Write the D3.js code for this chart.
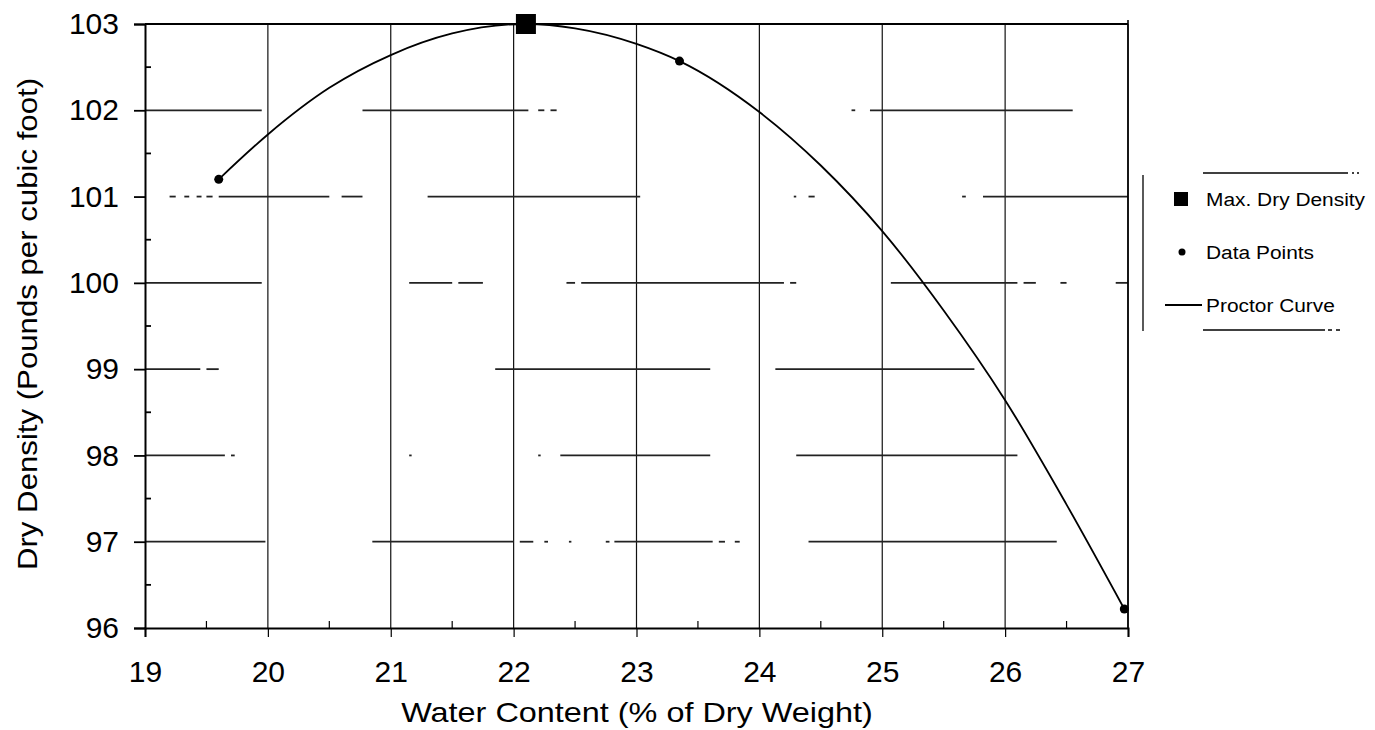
<!DOCTYPE html>
<html>
<head>
<meta charset="utf-8">
<script src="https://cdn.jsdelivr.net/npm/d3@7"></script>
<style>
  html, body { margin: 0; padding: 0; background: #fff; }
  svg { display: block; font-family: "Liberation Sans", Arial, sans-serif; }
</style>
</head>
<body>
<svg id="chart" width="1375" height="730"></svg>
<script>
// Compaction test: measured points
const waterContent = [19.6, 23.35, 26.97];
const dryDensity   = [101.2, 102.57, 96.22];

// Maximum dry density (peak of the curve)
const maxWater   = 22.1;
const maxDensity = 103.0;

// Proctor curve, read at regular water contents
const curveWater   = [19.6, 20, 20.5, 21, 21.5, 22.1, 22.5, 23, 23.35, 24, 24.5, 25, 25.5, 26, 26.5, 26.97];
const curveDensity = [101.2, 101.72, 102.26, 102.64, 102.89, 103.0, 102.95, 102.77, 102.57, 101.98, 101.36, 100.6, 99.68, 98.64, 97.43, 96.22];

// Axis ticks
const xTicks = [19, 20, 21, 22, 23, 24, 25, 26, 27];
const yTicks = [96, 97, 98, 99, 100, 101, 102, 103];

// Printed portions of the horizontal gridlines (water-content ranges)
const gridPieces = {
  102: [[19, 19.95], [20.77, 22.12], [22.2, 22.25], [22.3, 22.35], [24.75, 24.78], [24.9, 26.55]],
  101: [[19.2, 19.25], [19.32, 19.36], [19.42, 19.46], [19.5, 19.55], [19.6, 20.5], [20.6, 20.77], [21.3, 23.03], [24.28, 24.3], [24.4, 24.45], [25.65, 25.68], [25.82, 27]],
  100: [[19, 19.95], [21.15, 21.5], [21.55, 21.75], [22.43, 22.5], [22.55, 24.2], [24.25, 24.3], [25.07, 26.1], [26.15, 26.25], [26.45, 26.5], [26.9, 27]],
  99:  [[19, 19.45], [19.5, 19.6], [21.85, 23.6], [24.13, 25.75]],
  98:  [[19, 19.65], [19.7, 19.73], [21.15, 21.17], [22.2, 22.22], [22.38, 23.6], [24.3, 26.1]],
  97:  [[19, 19.98], [20.85, 22.0], [22.05, 22.16], [22.25, 22.28], [22.45, 22.47], [22.75, 22.78], [22.82, 23.62], [23.67, 23.72], [23.8, 23.84], [24.4, 26.42]]
};

const svg = d3.select("#chart");
const x = d3.scaleLinear().domain([19, 27]).range([145, 1128]);
const y = d3.scaleLinear().domain([96, 103]).range([628, 24]);

// Vertical gridlines
svg.append("g").selectAll("line")
  .data(xTicks.slice(1))
  .join("line")
  .attr("x1", d => x(d)).attr("x2", d => x(d))
  .attr("y1", y(103)).attr("y2", y(96))
  .attr("stroke", "#111").attr("stroke-width", 1.2);

// Horizontal gridline pieces
const hg = svg.append("g");
Object.entries(gridPieces).forEach(([level, pieces]) => {
  hg.selectAll(null)
    .data(pieces)
    .join("line")
    .attr("x1", d => x(d[0])).attr("x2", d => x(d[1]))
    .attr("y1", y(+level)).attr("y2", y(+level))
    .attr("stroke", "#222").attr("stroke-width", 1.8);
});

// Top border
svg.append("line")
  .attr("x1", x(19)).attr("x2", x(27))
  .attr("y1", y(103)).attr("y2", y(103))
  .attr("stroke", "#000").attr("stroke-width", 2);

// Y axis
const yAxis = svg.append("g")
  .attr("transform", `translate(${x(19)},0)`)
  .call(d3.axisLeft(y).tickValues(yTicks).tickSize(11).tickPadding(15).tickFormat(d3.format("d")));
yAxis.select(".domain").attr("stroke", "#000").attr("stroke-width", 2);
yAxis.selectAll(".tick line").attr("stroke", "#000").attr("stroke-width", 1.8);
yAxis.selectAll("text").attr("font-size", 30).attr("fill", "#000")
  .attr("font-family", "'Liberation Sans', Arial, sans-serif");

// X axis
const xAxis = svg.append("g")
  .attr("transform", `translate(0,${y(96)})`)
  .call(d3.axisBottom(x).tickValues(xTicks).tickSize(9).tickPadding(24).tickFormat(d3.format("d")));
xAxis.select(".domain").attr("stroke", "#000").attr("stroke-width", 2);
xAxis.selectAll(".tick line").attr("stroke", "#000").attr("stroke-width", 1.2);
xAxis.selectAll("text").attr("font-size", 30).attr("fill", "#000")
  .attr("font-family", "'Liberation Sans', Arial, sans-serif");

// Minor ticks pointing into the plot
const xMinor = d3.range(19.5, 27, 1);
svg.append("g").selectAll("line").data(xMinor).join("line")
  .attr("x1", d => x(d)).attr("x2", d => x(d))
  .attr("y1", y(96)).attr("y2", y(96) - 7)
  .attr("stroke", "#000").attr("stroke-width", 1.2);
const yMinor = d3.range(96.5, 103, 1);
svg.append("g").selectAll("line").data(yMinor).join("line")
  .attr("x1", x(19)).attr("x2", x(19) + 6)
  .attr("y1", d => y(d)).attr("y2", d => y(d))
  .attr("stroke", "#000").attr("stroke-width", 1.8);

// Right border
svg.append("line")
  .attr("x1", x(27)).attr("x2", x(27))
  .attr("y1", y(103) - 4).attr("y2", y(96))
  .attr("stroke", "#000").attr("stroke-width", 1.6);

// Proctor curve
const curvePts = curveWater.map((w, i) => [w, curveDensity[i]]);
svg.append("path")
  .datum(curvePts)
  .attr("fill", "none")
  .attr("stroke", "#000")
  .attr("stroke-width", 1.8)
  .attr("d", d3.line().x(d => x(d[0])).y(d => y(d[1])).curve(d3.curveMonotoneX));

// Data points
svg.append("g").selectAll("circle")
  .data(waterContent.map((w, i) => [w, dryDensity[i]]))
  .join("circle")
  .attr("cx", d => x(d[0])).attr("cy", d => y(d[1]))
  .attr("r", 4.5).attr("fill", "#000");

// Max dry density marker
svg.append("rect")
  .attr("x", x(maxWater) - 10).attr("y", y(maxDensity) - 10)
  .attr("width", 20).attr("height", 20)
  .attr("fill", "#000");

// Axis titles (wide face, stretched horizontally)
svg.append("text")
  .attr("transform", "translate(637,722) scale(1.2,1)")
  .attr("text-anchor", "middle")
  .attr("font-size", 27)
  .text("Water Content (% of Dry Weight)");
svg.append("text")
  .attr("transform", "translate(37,324) rotate(-90) scale(1.155,1)")
  .attr("text-anchor", "middle")
  .attr("font-size", 27)
  .text("Dry Density (Pounds per cubic foot)");

// Legend
const lg = svg.append("g");
lg.append("line").attr("x1", 1143).attr("x2", 1143).attr("y1", 175).attr("y2", 331)
  .attr("stroke", "#000").attr("stroke-width", 1.3);
lg.append("line").attr("x1", 1203).attr("x2", 1348).attr("y1", 173).attr("y2", 173)
  .attr("stroke", "#000").attr("stroke-width", 1.3);
lg.append("line").attr("x1", 1352).attr("x2", 1360).attr("y1", 173).attr("y2", 173)
  .attr("stroke", "#000").attr("stroke-width", 1.3).attr("stroke-dasharray", "2,3");
lg.append("line").attr("x1", 1203).attr("x2", 1325).attr("y1", 330).attr("y2", 330)
  .attr("stroke", "#000").attr("stroke-width", 1.3);
lg.append("line").attr("x1", 1328).attr("x2", 1342).attr("y1", 330).attr("y2", 330)
  .attr("stroke", "#000").attr("stroke-width", 1.3).attr("stroke-dasharray", "4,4");

const legendItems = ["Max. Dry Density", "Data Points", "Proctor Curve"];
const legendY = [199, 252, 305];
lg.append("rect").attr("x", 1174).attr("y", legendY[0] - 7).attr("width", 14).attr("height", 14).attr("fill", "#000");
lg.append("circle").attr("cx", 1182).attr("cy", legendY[1]).attr("r", 3.5).attr("fill", "#000");
lg.append("line").attr("x1", 1165).attr("x2", 1202).attr("y1", legendY[2]).attr("y2", legendY[2])
  .attr("stroke", "#000").attr("stroke-width", 2);
lg.selectAll("text.leg").data(legendItems).join("text")
  .attr("class", "leg")
  .attr("transform", (d, i) => `translate(1206,${legendY[i]}) scale(1.1,1)`)
  .attr("dy", "0.35em")
  .attr("font-size", 19)
  .text(d => d);
</script>
</body>
</html>
